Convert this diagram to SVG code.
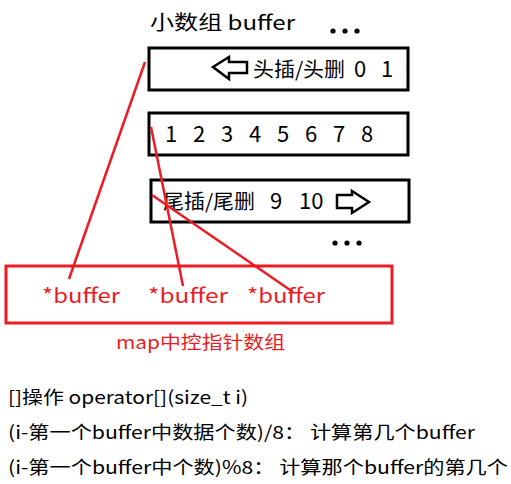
<svg xmlns="http://www.w3.org/2000/svg" width="511" height="484" viewBox="0 0 511 484">
<style>
text{font-family:"Noto Sans CJK SC","Noto Sans",sans-serif;fill:#000}
.box{fill:none;stroke:#000;stroke-width:3}
.red{fill:#ed1c24}
.rline{stroke:#ed1c24;stroke-width:2.5;fill:none}
.arr{fill:#fff;stroke:#000;stroke-width:2.5;stroke-linejoin:miter}
.t20{font-size:20px}
.t22{font-size:22px}
.t18{font-size:18px}
</style>
<rect width="511" height="484" fill="#fff"/>
<g id="title">
<text class="t20" x="150" y="30" textLength="145" lengthAdjust="spacingAndGlyphs">小数组 buffer</text>
<circle cx="333" cy="31" r="2.6"/><circle cx="345" cy="31" r="2.6"/><circle cx="357" cy="31" r="2.6"/>
</g>
<g id="buffer1">
<rect class="box" x="149" y="48" width="259" height="42"/>
<polygon class="arr" points="213,67 229,57 229,62 247,62 247,73 229,73 229,79"/>
<text class="t20" x="253" y="77" textLength="92" lengthAdjust="spacingAndGlyphs">头插/头删</text>
<text class="t22" x="354" y="77">0</text>
<text class="t22" x="381" y="77">1</text>
</g>
<g id="buffer2">
<rect class="box" x="149" y="113" width="259" height="42"/>
<text class="t22" y="142"><tspan x="165">1</tspan><tspan x="193">2</tspan><tspan x="221">3</tspan><tspan x="249">4</tspan><tspan x="277">5</tspan><tspan x="305">6</tspan><tspan x="333">7</tspan><tspan x="361">8</tspan></text>
</g>
<g id="buffer3">
<rect class="box" x="151" y="180" width="258" height="42"/>
<text class="t20" x="163" y="209" textLength="92" lengthAdjust="spacingAndGlyphs">尾插/尾删</text>
<text class="t22" x="270" y="209">9</text>
<text class="t22" x="299" y="209">10</text>
<polygon class="arr" points="369,202 352,191 352,195 337,195 337,208 352,208 352,213"/>
<circle cx="335" cy="243" r="2.6"/><circle cx="347" cy="243" r="2.6"/><circle cx="359" cy="243" r="2.6"/>
</g>
<g id="map">
<rect x="6" y="266" width="386" height="57" fill="none" stroke="#ed1c24" stroke-width="3"/>
<text class="t20 red" x="42" y="303" textLength="78" lengthAdjust="spacingAndGlyphs">*buffer</text>
<text class="t20 red" x="148" y="303" textLength="80" lengthAdjust="spacingAndGlyphs">*buffer</text>
<text class="t20 red" x="247" y="303" textLength="78" lengthAdjust="spacingAndGlyphs">*buffer</text>
<text class="t18 red" x="116" y="349" textLength="169" lengthAdjust="spacingAndGlyphs">map中控指针数组</text>
</g>
<g id="connectors">
<line class="rline" x1="145" y1="62" x2="69" y2="279"/>
<line class="rline" x1="151" y1="127" x2="183" y2="286"/>
<line class="rline" x1="152" y1="195" x2="293" y2="292"/>
</g>
<g id="notes">
<text class="t18" x="8" y="404" textLength="240" lengthAdjust="spacingAndGlyphs">[]操作 operator[](size_t i)</text>
<text class="t18" x="8" y="439" textLength="467" lengthAdjust="spacingAndGlyphs">(i-第一个buffer中数据个数)/8： 计算第几个buffer</text>
<text class="t18" x="8" y="474" textLength="500" lengthAdjust="spacingAndGlyphs">(i-第一个buffer中个数)%8： 计算那个buffer的第几个</text>
</g>
</svg>
